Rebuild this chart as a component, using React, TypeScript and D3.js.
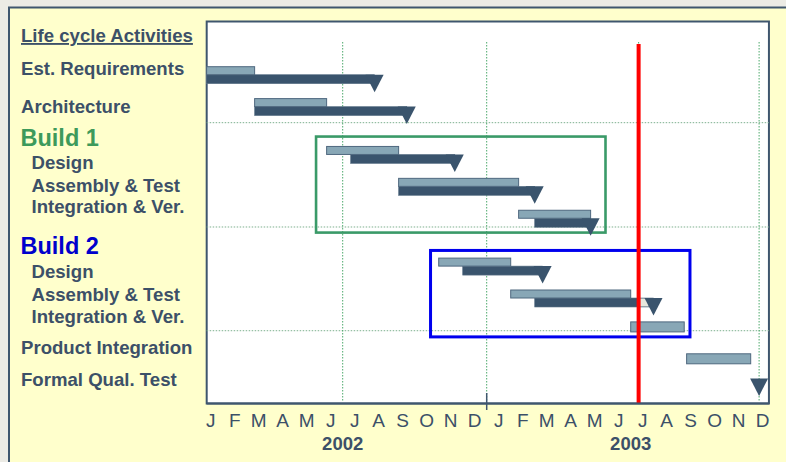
import React from "react";
import * as d3 from "d3";

// ---------------- DATA ----------------
const monthLabels = ["J","F","M","A","M","J","J","A","S","O","N","D","J","F","M","A","M","J","J","A","S","O","N","D"];
const yearLabels = ["2002", "2003"];
const yearMid = [6, 18]; // month index of year centre

const taskNames = [
  "Est. Requirements", "Architecture",
  "B1 Design", "B1 Assembly & Test", "B1 Integration & Ver.",
  "B2 Design", "B2 Assembly & Test", "B2 Integration & Ver.",
  "Product Integration", "Formal Qual. Test",
];
// months since Jan 2002
const planStart: (number | null)[] = [0.33, 2.33, 5.33, 8.33, 13.33, 10.0, 13.0, 18.0, 20.33, null];
const planEnd: (number | null)[] = [2.33, 5.33, 8.33, 13.33, 16.33, 13.0, 18.0, 20.23, 23.0, null];
const actualStart: (number | null)[] = [0.33, 2.33, 6.33, 8.33, 14.0, 11.0, 14.0, null, null, null];
const milestone: (number | null)[] = [7.33, 8.67, 10.67, 14.0, 16.33, 14.33, 18.95, null, null, 23.35];
const remainingPatch = { task: 6, from: 18.33, to: 18.75 };

const statusDate = 18.33;
const vGridMonths = [6, 12, 18.33, 23.35];
const yearBoundary = 12;

const labelTexts = [
  "Life cycle Activities", "Est. Requirements", "Architecture", "Build 1",
  "Design", "Assembly & Test", "Integration & Ver.", "Build 2",
  "Design", "Assembly & Test", "Integration & Ver.", "Product Integration", "Formal Qual. Test",
];
const labelKinds = ["title", "main", "main", "build1", "sub", "sub", "sub", "build2", "sub", "sub", "sub", "main", "main"];

// ---------------- LAYOUT ----------------
const W = 786, H = 462;
const ROW_SLOT = [0, 1, 2.5, 3.5, 4.5, 6, 7, 8, 9, 9.52];
const H_GRID_SLOT = [1.755, 5.025, 8.276];
const LABEL_Y = [42, 75, 113.3, 145.7, 169.3, 191.7, 213.3, 254.3, 277.7, 301, 323.3, 354, 385.7];
const PLOT = { m0: 0.333, m1: 23.76, top: 21.5, bottom: 403.5 };
const BOXES = [
  { m0: 4.89, m1: 16.95, s0: 2.19, s1: 5.2, color: "#3A9A68", w: 2.6 },
  { m0: 9.66, m1: 20.47, s0: 5.76, s1: 8.47, color: "#0000EE", w: 3 },
];

const C = {
  page: "#ECEBE5",
  panel: "#FFFFCC",
  frame: "#3F566E",
  text: "#3C5068",
  dark: "#3A546D",
  light: "#88A7B6",
  lightStroke: "#4F687F",
  vgrid: "#4CA86A",
  hgrid: "#7DB08F",
  red: "#FF0000",
  green: "#3D9A5B",
  blue: "#0000CC",
};

export default function App() {
  const x = d3.scaleLinear().domain([0, 24]).range([198.7, 774.7]);
  const y = d3.scaleLinear().domain([0, 1]).range([66.7, 98.6]);
  const px0 = x(PLOT.m0), px1 = x(PLOT.m1);
  const font = "'Liberation Sans', Arial, sans-serif";

  return (
    <svg width={W} height={H} style={{ position: "absolute", left: 0, top: 0, display: "block" }} fontFamily={font}>
      <rect x={0} y={0} width={W} height={H} fill={C.page} />
      <rect x={9} y={7.5} width={W + 20} height={H + 20} fill={C.panel} stroke={C.frame} strokeWidth={2} />

      {/* plot area */}
      <rect x={px0} y={PLOT.top} width={px1 - px0} height={PLOT.bottom - PLOT.top} fill="#FFFFFF" stroke={C.frame} strokeWidth={2} />

      {/* horizontal grid */}
      {H_GRID_SLOT.map((s, i) => (
        <line key={"h" + i} x1={px0} x2={px1} y1={y(s)} y2={y(s)} stroke={C.hgrid} strokeWidth={1} strokeDasharray="1.5,1.5" />
      ))}
      {/* vertical grid */}
      {vGridMonths.map((m, i) => (
        <line key={"v" + i} x1={x(m)} x2={x(m)} y1={42} y2={401} stroke={C.vgrid} strokeWidth={1} strokeDasharray="1.5,1.5" />
      ))}

      {/* boxes */}
      {BOXES.map((b, i) => (
        <rect key={"b" + i} x={x(b.m0)} y={y(b.s0)} width={x(b.m1) - x(b.m0)} height={y(b.s1) - y(b.s0)} fill="none" stroke={b.color} strokeWidth={b.w} />
      ))}

      {/* bars */}
      {taskNames.map((name, i) => {
        const top = y(ROW_SLOT[i]);
        const ps = planStart[i], pe = planEnd[i], as = actualStart[i], ms = milestone[i];
        const hasDark = as != null || ms != null;
        const lh = hasDark ? 8 : 10;
        const els: React.ReactNode[] = [];
        if (as != null && ms != null) {
          els.push(<rect key="d" x={x(as)} y={top + 8} width={x(ms) - x(as)} height={9} fill={C.dark} stroke="#5E7488" strokeWidth={0.6} />);
        }
        if (ps != null && pe != null) {
          els.push(<rect key="l" x={x(ps)} y={top} width={x(pe) - x(ps)} height={lh} fill={C.light} stroke={C.lightStroke} strokeWidth={1} />);
        }
        if (remainingPatch.task === i) {
          els.push(<rect key="p" x={x(remainingPatch.from)} y={top + 8.5} width={x(remainingPatch.to) - x(remainingPatch.from)} height={8} fill="#E8E8DE" />);
        }
        if (ms != null) {
          const cx = x(ms), t = top + 8;
          els.push(<polygon key="m" points={`${cx - 9},${t} ${cx + 9},${t} ${cx},${t + 17.5}`} fill={C.dark} />);
        }
        return <g key={name}>{els}</g>;
      })}

      {/* status date line */}
      <line x1={x(statusDate)} x2={x(statusDate)} y1={44} y2={PLOT.bottom} stroke={C.red} strokeWidth={4} />

      {/* axis bottom redraw + year tick */}
      <line x1={px0} x2={px1} y1={PLOT.bottom} y2={PLOT.bottom} stroke={C.frame} strokeWidth={2} />
      <line x1={x(yearBoundary)} x2={x(yearBoundary)} y1={393} y2={410} stroke={C.frame} strokeWidth={1.5} />

      {monthLabels.map((m, i) => (
        <text key={"ml" + i} x={x(i + 0.5)} y={427} textAnchor="middle" fontSize={19} fill={C.text}>{m}</text>
      ))}
      {yearLabels.map((yl, i) => (
        <text key={"yl" + i} x={x(yearMid[i])} y={450} textAnchor="middle" fontSize={18.5} fontWeight="bold" fill={C.text}>{yl}</text>
      ))}

      {/* left labels */}
      {labelTexts.map((t, i) => {
        const k = labelKinds[i];
        const isSub = k === "sub";
        const isBuild = k === "build1" || k === "build2";
        const fill = k === "build1" ? C.green : k === "build2" ? C.blue : C.text;
        return (
          <text key={"lb" + i} x={isSub ? 31.5 : isBuild ? 20.5 : 21} y={LABEL_Y[i]} fontSize={isBuild ? 23.5 : 18.6} fontWeight="bold" fill={fill}
            textDecoration={k === "title" ? "underline" : undefined}>{t}</text>
        );
      })}
    </svg>
  );
}
